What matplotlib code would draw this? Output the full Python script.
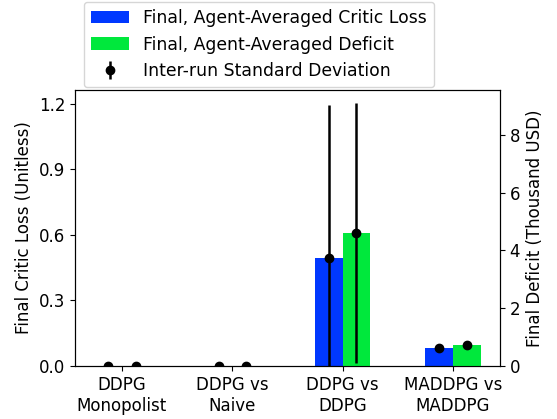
import matplotlib
matplotlib.use("Agg")
import matplotlib.pyplot as plt
import numpy as np

categories = ["DDPG\nMonopolist", "DDPG vs\nNaive", "DDPG vs\nDDPG", "MADDPG vs\nMADDPG"]
critic_loss = [0.0, 0.0, 0.496, 0.084]
critic_loss_std = [0.0, 0.0, 0.70, 0.0]
deficit = [0.0, 0.0, 4.60, 0.73]
deficit_std = [0.0, 0.0, 4.49, 0.0]

plt.rcParams['font.size'] = 12

fig = plt.figure(figsize=(5.57, 4.19), dpi=100)
ax1 = fig.add_axes([75/557, 1 - 366/419, 425/557, 276/419])
ax2 = ax1.twinx()

x = np.arange(len(categories))
w = 0.25
blue = "#0038ff"
green = "#00e83c"

b1 = ax1.bar(x - w/2, critic_loss, w, color=blue, label="Final, Agent-Averaged Critic Loss")
e1 = ax1.errorbar(x - w/2, critic_loss, yerr=critic_loss_std, fmt='o', color='black',
                  markersize=6, elinewidth=1.8, capsize=0, label="Inter-run Standard Deviation")
b2 = ax2.bar(x + w/2, deficit, w, color=green, label="Final, Agent-Averaged Deficit")
ax2.errorbar(x + w/2, deficit, yerr=deficit_std, fmt='o', color='black',
             markersize=6, elinewidth=1.8, capsize=0)

ax1.set_ylim(0, 1.264)
ax2.set_ylim(0, 9.55)
ax1.set_yticks([0.0, 0.3, 0.6, 0.9, 1.2])
ax2.set_yticks([0, 2, 4, 6, 8])
ax1.set_xticks(x)
ax1.set_xticklabels(categories)
ax1.set_ylabel("Final Critic Loss (Unitless)")
ax2.set_ylabel("Final Deficit (Thousand USD)")

fig.legend([b1, b2, e1],
           ["Final, Agent-Averaged Critic Loss", "Final, Agent-Averaged Deficit",
            "Inter-run Standard Deviation"],
           loc='upper left', bbox_to_anchor=(84/557, 1 - 2/419), borderaxespad=0,
           fontsize=12.4, handlelength=2.2, handletextpad=0.85, labelspacing=0.5)

fig.savefig("out.png", dpi=100)
